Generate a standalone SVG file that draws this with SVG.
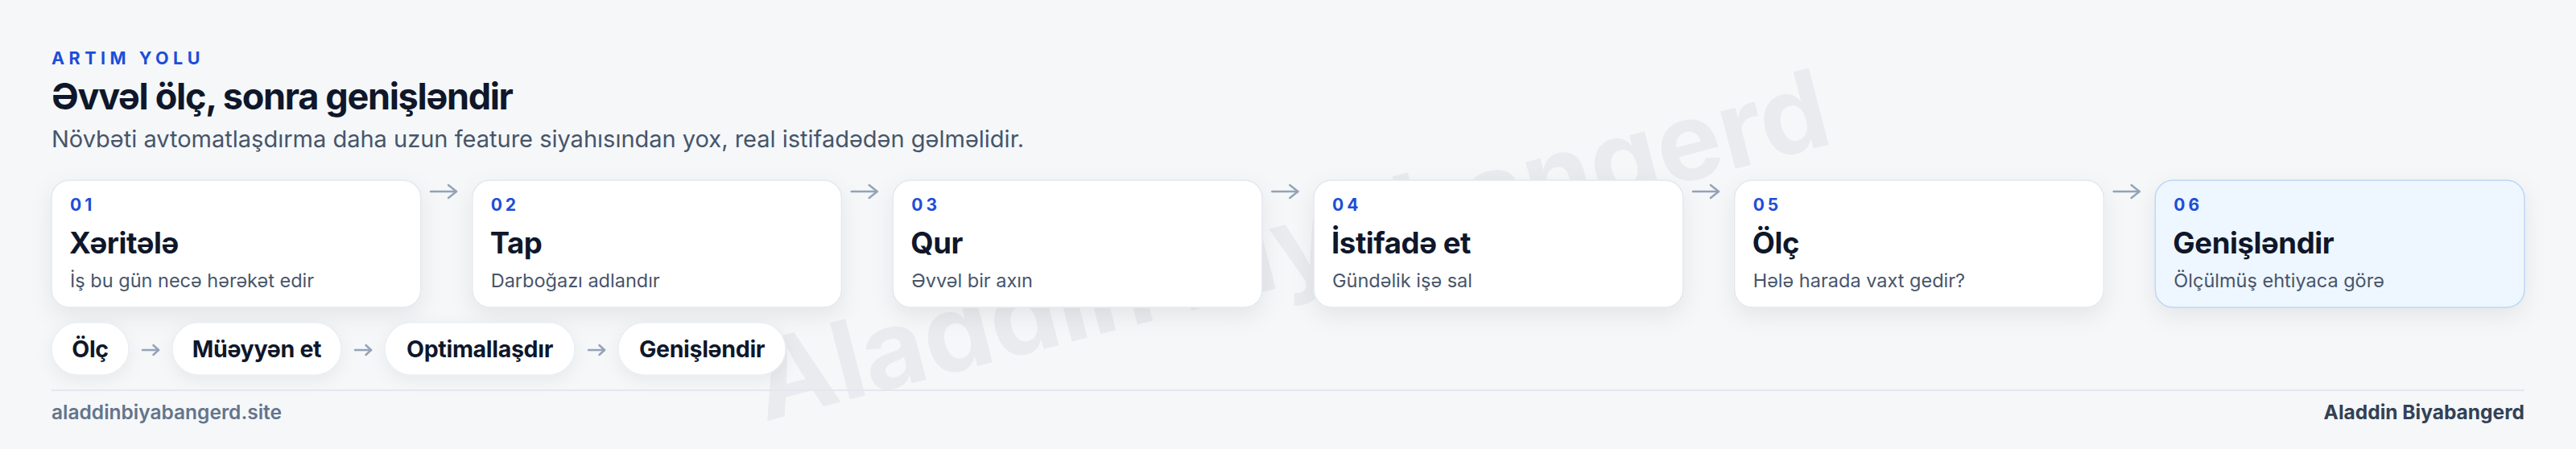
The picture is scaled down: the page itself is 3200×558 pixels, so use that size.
<svg xmlns="http://www.w3.org/2000/svg" width="3200" height="558" viewBox="0 0 3200 558">
<defs>
<style>
text{font-family:Inter,"Liberation Sans","Noto Sans",sans-serif}
.card{fill:#ffffff;stroke:#e3e8ee;stroke-width:1.5}
.card.hl{fill:#eef6ff;stroke:#bcd6f6}
.num{font-size:21px;font-weight:700;fill:#1d4ed8;letter-spacing:4px}
.ttl{font-size:36.5px;font-weight:700;fill:#0f172a;letter-spacing:-0.4px}
.sub{font-size:23.5px;font-weight:400;fill:#475569}
.chip{fill:#ffffff;stroke:#e8ecf1;stroke-width:1.2}
.chipt{font-size:28.5px;font-weight:700;fill:#0f172a;text-anchor:middle;letter-spacing:-0.3px}
.conn{stroke:#94a3b8;stroke-width:2.5;fill:none;stroke-linecap:round}
</style>
<filter id="sh" x="-10%" y="-20%" width="120%" height="160%">
<feDropShadow dx="0" dy="10" stdDeviation="14" flood-color="#0f172a" flood-opacity="0.07"/>
</filter>
<filter id="shs" x="-20%" y="-30%" width="140%" height="180%">
<feDropShadow dx="0" dy="6" stdDeviation="10" flood-color="#0f172a" flood-opacity="0.06"/>
</filter>
<marker id="ah" viewBox="0 0 14 20" refX="12" refY="10" markerWidth="14" markerHeight="20" markerUnits="userSpaceOnUse" orient="auto">
<path d="M2,2 L12,10 L2,18" fill="none" stroke="#94a3b8" stroke-width="2.5" stroke-linecap="round" stroke-linejoin="round"/>
</marker>
<marker id="ahs" viewBox="0 0 10 16" refX="8.5" refY="8" markerWidth="10" markerHeight="16" markerUnits="userSpaceOnUse" orient="auto">
<path d="M2,2 L8.5,8 L2,14" fill="none" stroke="#94a3b8" stroke-width="2.5" stroke-linecap="round" stroke-linejoin="round"/>
</marker>
</defs>
<rect x="0" y="0" width="3200" height="558" fill="#f5f7f9"/>
<text id="watermark" x="950" y="524" transform="rotate(-14.6 950 524)" font-size="135" font-weight="700" fill="#0f172a" fill-opacity="0.05">Aladdin Biyabangerd</text>
<g id="header">
<text x="64" y="80" font-size="21.5" font-weight="700" fill="#1d4ed8" letter-spacing="5.5">ARTIM YOLU</text>
<text x="64" y="136" font-size="45" font-weight="700" fill="#0f172a" letter-spacing="-1.3">Əvvəl ölç, sonra genişləndir</text>
<text x="64" y="183" font-size="29" fill="#475569">Növbəti avtomatlaşdırma daha uzun feature siyahısından yox, real istifadədən gəlməlidir.</text>
</g>
<g id="connectors">
<line class="conn" x1="535" y1="238" x2="567" y2="238" marker-end="url(#ah)"/>
<line class="conn" x1="1057.7" y1="238" x2="1089.7" y2="238" marker-end="url(#ah)"/>
<line class="conn" x1="1580.3" y1="238" x2="1612.3" y2="238" marker-end="url(#ah)"/>
<line class="conn" x1="2103" y1="238" x2="2135" y2="238" marker-end="url(#ah)"/>
<line class="conn" x1="2625.7" y1="238" x2="2657.7" y2="238" marker-end="url(#ah)"/>
<line class="conn" x1="177" y1="435" x2="197" y2="435" marker-end="url(#ahs)"/>
<line class="conn" x1="441" y1="435" x2="461" y2="435" marker-end="url(#ahs)"/>
<line class="conn" x1="731" y1="435" x2="751" y2="435" marker-end="url(#ahs)"/>
</g>
<g id="step-01">
<rect class="card" x="64" y="224" width="458.7" height="158" rx="22" filter="url(#sh)"/>
<text class="num" x="87" y="262">01</text>
<text class="ttl" x="86" y="315">Xəritələ</text>
<text class="sub" x="87" y="357">İş bu gün necə hərəkət edir</text>
</g>
<g id="step-02">
<rect class="card" x="586.7" y="224" width="458.7" height="158" rx="22" filter="url(#sh)"/>
<text class="num" x="609.7" y="262">02</text>
<text class="ttl" x="608.7" y="315">Tap</text>
<text class="sub" x="609.7" y="357">Darboğazı adlandır</text>
</g>
<g id="step-03">
<rect class="card" x="1109.3" y="224" width="458.7" height="158" rx="22" filter="url(#sh)"/>
<text class="num" x="1132.3" y="262">03</text>
<text class="ttl" x="1131.3" y="315">Qur</text>
<text class="sub" x="1132.3" y="357">Əvvəl bir axın</text>
</g>
<g id="step-04">
<rect class="card" x="1632" y="224" width="458.7" height="158" rx="22" filter="url(#sh)"/>
<text class="num" x="1655" y="262">04</text>
<text class="ttl" x="1654" y="315">İstifadə et</text>
<text class="sub" x="1655" y="357">Gündəlik işə sal</text>
</g>
<g id="step-05">
<rect class="card" x="2154.7" y="224" width="458.7" height="158" rx="22" filter="url(#sh)"/>
<text class="num" x="2177.7" y="262">05</text>
<text class="ttl" x="2176.7" y="315">Ölç</text>
<text class="sub" x="2177.7" y="357">Hələ harada vaxt gedir?</text>
</g>
<g id="step-06">
<rect class="card hl" x="2677.3" y="224" width="458.7" height="158" rx="22" filter="url(#sh)"/>
<text class="num" x="2700.3" y="262">06</text>
<text class="ttl" x="2699.3" y="315">Genişləndir</text>
<text class="sub" x="2700.3" y="357">Ölçülmüş ehtiyaca görə</text>
</g>
<g id="chip-olc">
<rect class="chip" x="64" y="401" width="96" height="65" rx="32.5" filter="url(#shs)"/>
<text class="chipt" x="112" y="444">Ölç</text>
</g>
<g id="chip-mueyyen">
<rect class="chip" x="214" y="401" width="210" height="65" rx="32.5" filter="url(#shs)"/>
<text class="chipt" x="319" y="444">Müəyyən et</text>
</g>
<g id="chip-optimallasdir">
<rect class="chip" x="478" y="401" width="236" height="65" rx="32.5" filter="url(#shs)"/>
<text class="chipt" x="596" y="444">Optimallaşdır</text>
</g>
<g id="chip-genislendir">
<rect class="chip" x="768" y="401" width="208" height="65" rx="32.5" filter="url(#shs)"/>
<text class="chipt" x="872" y="444">Genişləndir</text>
</g>
<g id="footer">
<line x1="64" y1="485" x2="3136" y2="485" stroke="#e2e8f0" stroke-width="2"/>
<text x="64" y="521" font-size="24.5" font-weight="600" fill="#64748b">aladdinbiyabangerd.site</text>
<text x="3136" y="521" font-size="24.5" font-weight="700" fill="#334155" text-anchor="end">Aladdin Biyabangerd</text>
</g>
</svg>
